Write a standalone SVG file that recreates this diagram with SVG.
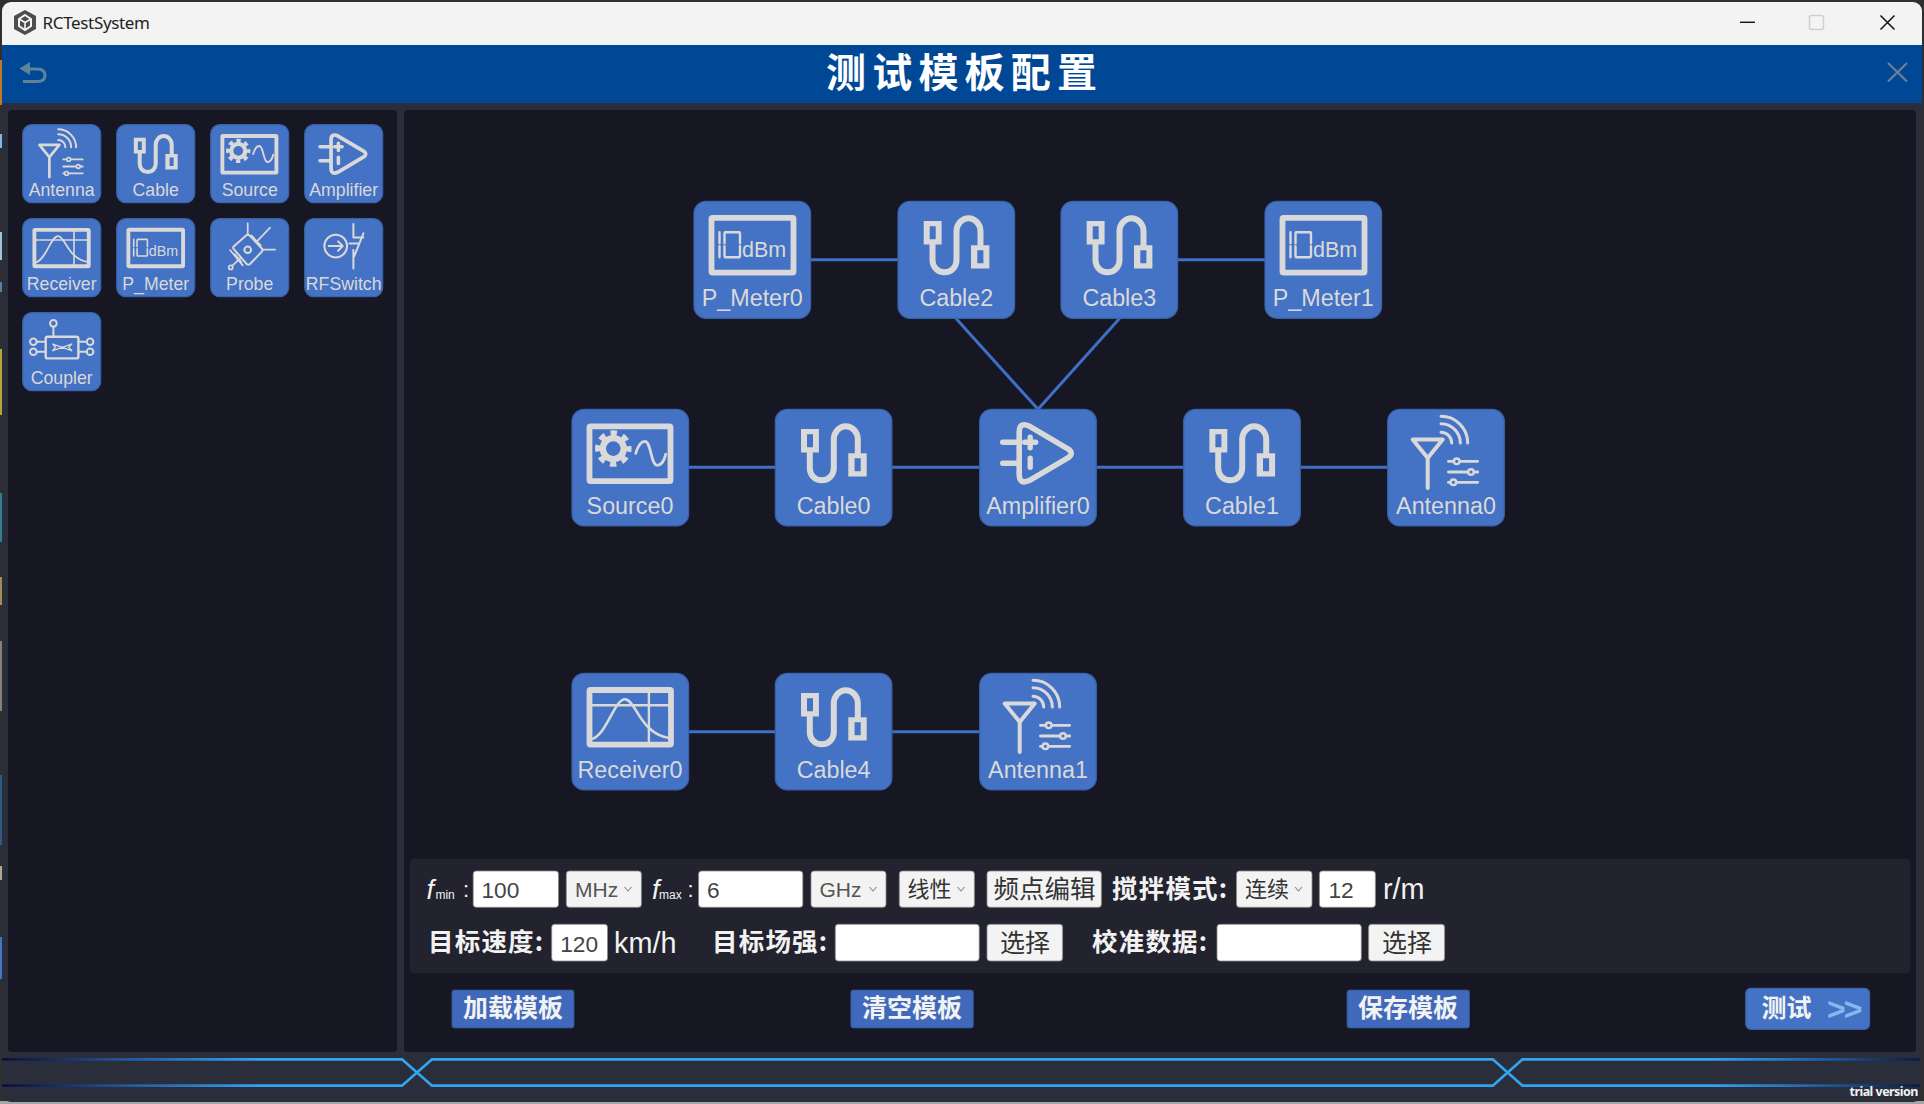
<svg xmlns="http://www.w3.org/2000/svg" width="1924" height="1104" viewBox="0 0 1924 1104">
<style>
.node{fill:#4472c4;stroke:#3a62a8;stroke-width:1.2}
.ic{fill:none;stroke:#d9d9d9;stroke-linecap:round;stroke-linejoin:round}
.icf{fill:#d9d9d9;stroke:none}
.nl{font-family:"Liberation Sans",Arial,sans-serif;font-size:23.3px;fill:#d9d9d9;text-anchor:middle}
.pl{font-family:"Liberation Sans",Arial,sans-serif;font-size:17.7px;fill:#d9d9d9;text-anchor:middle}
.link{stroke:#3f6fc6;stroke-width:3;fill:none}
.inp{fill:#fff;stroke:#8a8a8a;stroke-width:.8}
.sel{fill:#f3f3f3;stroke:#8a8a8a;stroke-width:.8}
.btn{fill:#4069bb;stroke:#2f528f;stroke-width:.8}
.lat{font-family:"Liberation Sans",Arial,sans-serif}
.in{font-size:22.7px;fill:#444}
.opt{font-size:21px;fill:#555}
.unit{font-size:28.8px;fill:#f2f2f2}
.cjk{font-family:"Noto Sans CJK SC","Liberation Serif",sans-serif}
.lb{font-size:25.5px;fill:#f2f2f2;font-weight:700;letter-spacing:1.2px}
.bl{font-size:25px;fill:#333}
.bt{font-size:25px;fill:#f2f2f2;font-weight:700;text-anchor:middle}
.ch{fill:none;stroke:#888;stroke-width:1.1}
.deco{fill:none;stroke:url(#g);stroke-width:2.8}
</style>
<defs>
<linearGradient id="g" gradientUnits="userSpaceOnUse" x1="2" y1="0" x2="1922" y2="0">
<stop offset="0" stop-color="#0a0f3a"/><stop offset=".067" stop-color="#245a9f"/><stop offset=".135" stop-color="#33a4f2"/><stop offset=".89" stop-color="#33a4f2"/><stop offset=".95" stop-color="#1f5a9e"/><stop offset="1" stop-color="#0a1a40"/>
</linearGradient>
<g id="ic-antenna">
<path class="ic" stroke-width="4" d="M25 30.3H55L40 48.7ZM40 48.7V78.7"/>
<path class="ic" stroke-width="3" d="M53.3 7a26.7 26.7 0 0 1 26.7 26.7M53.3 14.4a19.3 19.3 0 0 1 19.3 19.3M53.3 23a10.7 10.7 0 0 1 10.7 10.7"/>
<path class="ic" stroke-width="2.8" d="M60.7 52H90M60.7 62.7H90M60.7 73H90"/>
<g fill="#4472c4" stroke="#d9d9d9" stroke-width="2.4"><circle cx="69" cy="52" r="2.8"/><circle cx="83.3" cy="62.7" r="2.8"/><circle cx="65.7" cy="73" r="2.8"/></g>
</g>
<g id="ic-cable">
<path class="ic" stroke-width="6" d="M34.5 43V59a12 12 0 0 0 24 0V30a12 13 0 0 1 24 0V44"/>
<path class="icf" fill-rule="evenodd" d="M25.7 19.7H43.6V43.3H25.7ZM31.7 25V38H37.7V25Z"/>
<path class="icf" fill-rule="evenodd" d="M73 44H91.4V67.3H73ZM79.3 49V62H85.4V49Z"/>
</g>
<g id="ic-source">
<rect class="ic" stroke-width="5.8" x="17.5" y="17" width="81" height="54.8" rx="1"/>
<circle class="ic" stroke-width="6.4" cx="41.3" cy="39.3" r="10.5"/>
<circle fill="none" stroke="#d9d9d9" stroke-width="5.5" stroke-dasharray="6.4 5.77" stroke-dashoffset="3.2" cx="41.3" cy="39.3" r="15.5"/>
<path class="ic" stroke-width="2.8" d="M63.7 44C66 36 69 32 73 32C79 32 79 56 85 56C89 56 92 52 93.7 45"/>
</g>
<g id="ic-amplifier">
<path class="ic" stroke-width="5.6" d="M39.5 23Q39.5 12 50 17L89 40Q94 44 89 48L50 71Q39.5 76 39.5 65Z"/>
<path class="ic" stroke-width="5.4" d="M23 33H38M23 54H38M45 33H56M50.5 28V38.5M50.5 49V58"/>
</g>
<g id="ic-receiver">
<rect class="ic" stroke-width="5.8" x="17.5" y="16.7" width="81.5" height="54.6" rx="1"/>
<path class="ic" stroke-width="2.4" d="M17.5 32H99M76.9 17V71"/>
<path class="ic" stroke-width="2.6" d="M19 66C35 62 42 26 53 26C64 26 68 62 99 65"/>
</g>
<g id="ic-meter">
<rect class="ic" stroke-width="5.8" x="17.5" y="16.5" width="82" height="54.8" rx="1"/>
<path class="ic" stroke-width="2.4" d="M25.5 31V42M25.5 45V56M31 31H45.5M31 56H45.5M30.5 32V42M30.5 45V55M46 32V42M46 45V55"/>
<text x="48" y="56" font-family="Liberation Sans,Arial,sans-serif" font-size="21.5" fill="#d9d9d9">dBm</text>
</g>
<g id="ic-probe">
<path class="ic" stroke-width="3" d="M34 42L54 24.5Q56 23 58 25L77 45Q78.5 47 77 49L59 68Q56.5 70 54 68L35 46Q33 44 34 42Z"/>
<circle class="ic" stroke-width="3" cx="55.5" cy="46.5" r="5"/>
<path class="ic" stroke-width="2.6" d="M55.5 7V24.5M89 13.5L69 34.5M77.5 46.5H96.5M29 47L48 70M44 59.5L33 70M61 25L75 40M36 53L46 65"/>
<circle class="ic" stroke-width="2.6" cx="30" cy="73" r="3"/>
</g>
<g id="ic-switch">
<circle class="ic" stroke-width="3" cx="46.5" cy="41" r="17"/>
<path class="ic" stroke-width="3" d="M36 41H57M50 34L57 41L50 48"/>
<path class="ic" stroke-width="3" d="M73 8V28H88M88 22L74 57M67 37H82L74 57M73 47V74.5"/>
</g>
<g id="ic-coupler">
<rect class="ic" stroke-width="3.6" x="34.5" y="36" width="49" height="32.5" rx="3"/>
<circle class="ic" stroke-width="3" cx="46" cy="16" r="5"/>
<circle class="ic" stroke-width="3" cx="16" cy="43.5" r="5"/><circle class="ic" stroke-width="3" cx="16" cy="58.5" r="5"/>
<circle class="ic" stroke-width="3" cx="101" cy="43.5" r="5"/><circle class="ic" stroke-width="3" cx="101" cy="58.5" r="5"/>
<path class="ic" stroke-width="3" d="M46 21V36M21 43.5H34M21 58.5H34M84 43.5H96M84 58.5H96"/>
<path class="ic" stroke-width="2" d="M45 47L73.5 57M45 57L73.5 47M45 47L49 52L45 57M73.5 47L69 52L73.5 57"/>
</g>
</defs>

<rect width="1924" height="1104" fill="#2f2f2f"/>
<rect y="1101" width="1924" height="3" fill="#a5a5a5"/>
<rect x="0" y="60" width="2" height="45" fill="#c07a2a"/>
<rect x="0" y="134" width="2" height="14" fill="#7fb8e0"/>
<rect x="0" y="232" width="2" height="28" fill="#9fc5d8"/>
<rect x="0" y="282" width="2" height="10" fill="#5a7f9a"/>
<rect x="0" y="349" width="2" height="66" fill="#b8a23a"/>
<rect x="0" y="493" width="2" height="49" fill="#2f7f8f"/>
<rect x="0" y="577" width="2" height="28" fill="#a58a55"/>
<rect x="0" y="641" width="2" height="70" fill="#8a7f7a"/>
<rect x="0" y="775" width="2" height="70" fill="#2f5a85"/>
<rect x="0" y="866" width="2" height="14" fill="#b0a890"/>
<rect x="0" y="937" width="2" height="42" fill="#3f78c0"/>

<rect x="2" y="2" width="1920" height="1100" rx="9" fill="#2a2d3a"/>
<path d="M2 45V11a9 9 0 0 1 9-9H1913a9 9 0 0 1 9 9V45Z" fill="#f3f3f3"/>
<rect x="2" y="45" width="1920" height="58" fill="#004896"/>

<g id="titlebar">
<polygon points="25,10 36,16 36,29 25,35 14,29 14,16" fill="#4d4d4d"/>
<path d="M25 15L31 19V26L25 30L19 26V19Z" fill="none" stroke="#f3f3f3" stroke-width="2"/>
<path d="M19 19L25 22.5L31 19M25 22.5V30" fill="none" stroke="#f3f3f3" stroke-width="1.6"/>
<text x="42.5" y="28.7" font-family="Noto Sans,sans-serif" font-size="17" fill="#222" textLength="107.5">RCTestSystem</text>
<path d="M1740 22.3H1755" stroke="#111" stroke-width="1.4"/>
<rect x="1809.5" y="15.5" width="14" height="14" rx="2" fill="none" stroke="#cfcfcf" stroke-width="1.5"/>
<path d="M1880.5 15.5L1894.5 29.5M1894.5 15.5L1880.5 29.5" stroke="#111" stroke-width="1.5"/>
</g>
<g id="header">
<path d="M26 69H37Q45 69 45 75.5Q45 81.5 37 81.5H23" fill="none" stroke="#5f8499" stroke-width="3"/>
<polygon points="19.5,68.5 30,62 30,75" fill="#5f8499"/>
<text class="cjk" x="826" y="87" font-size="40" font-weight="700" letter-spacing="6.2" fill="#fff">测试模板配置</text>
<path d="M1888 63L1907 81.5M1907 63L1888 81.5" stroke="#6b8096" stroke-width="2.2"/>
</g>

<rect x="8" y="110" width="389" height="942" rx="4" fill="#161722"/>
<rect x="404" y="110" width="1512" height="942" rx="4" fill="#161722"/>

<g id="palette">
<g id="palette-antenna"><rect class="node" x="22.7" y="124.7" width="78" height="78" rx="9"/><use href="#ic-antenna" transform="translate(22.7 124.7) scale(.667)"/><text class="pl" x="61.7" y="195.7">Antenna</text></g>
<g id="palette-cable"><rect class="node" x="116.7" y="124.7" width="78" height="78" rx="9"/><use href="#ic-cable" transform="translate(116.7 124.7) scale(.667)"/><text class="pl" x="155.7" y="195.7">Cable</text></g>
<g id="palette-source"><rect class="node" x="210.7" y="124.7" width="78" height="78" rx="9"/><use href="#ic-source" transform="translate(210.7 124.7) scale(.667)"/><text class="pl" x="249.7" y="195.7">Source</text></g>
<g id="palette-amplifier"><rect class="node" x="304.7" y="124.7" width="78" height="78" rx="9"/><use href="#ic-amplifier" transform="translate(304.7 124.7) scale(.667)"/><text class="pl" x="343.7" y="195.7">Amplifier</text></g>
<g id="palette-receiver"><rect class="node" x="22.7" y="218.7" width="78" height="78" rx="9"/><use href="#ic-receiver" transform="translate(22.7 218.7) scale(.667)"/><text class="pl" x="61.7" y="289.7">Receiver</text></g>
<g id="palette-meter"><rect class="node" x="116.7" y="218.7" width="78" height="78" rx="9"/><use href="#ic-meter" transform="translate(116.7 218.7) scale(.667)"/><text class="pl" x="155.7" y="289.7">P_Meter</text></g>
<g id="palette-probe"><rect class="node" x="210.7" y="218.7" width="78" height="78" rx="9"/><use href="#ic-probe" transform="translate(210.7 218.7) scale(.667)"/><text class="pl" x="249.7" y="289.7">Probe</text></g>
<g id="palette-switch"><rect class="node" x="304.7" y="218.7" width="78" height="78" rx="9"/><use href="#ic-switch" transform="translate(304.7 218.7) scale(.667)"/><text class="pl" x="343.7" y="289.7">RFSwitch</text></g>
<g id="palette-coupler"><rect class="node" x="22.7" y="312.7" width="78" height="78" rx="9"/><use href="#ic-coupler" transform="translate(22.7 312.7) scale(.667)"/><text class="pl" x="61.7" y="383.7">Coupler</text></g>
</g>

<g id="connectors">
<line class="link" x1="810.5" y1="259.7" x2="898" y2="259.7"/>
<line class="link" x1="1177.7" y1="259.7" x2="1265" y2="259.7"/>
<line class="link" x1="956" y1="318.5" x2="1038" y2="409.3"/>
<line class="link" x1="1119.5" y1="318.5" x2="1038" y2="409.3"/>
<line class="link" x1="688.5" y1="467.3" x2="775.3" y2="467.3"/>
<line class="link" x1="892" y1="467.3" x2="980" y2="467.3"/>
<line class="link" x1="1096.5" y1="467.3" x2="1184" y2="467.3"/>
<line class="link" x1="1300.5" y1="467.3" x2="1388" y2="467.3"/>
<line class="link" x1="688.5" y1="731.7" x2="775.3" y2="731.7"/>
<line class="link" x1="892" y1="731.7" x2="980" y2="731.7"/>
</g>

<g id="P_Meter0"><rect class="node" x="694" y="201.3" width="116.6" height="117" rx="12"/><use href="#ic-meter" transform="translate(694 201.3)"/><text class="nl" x="752.3" y="306">P_Meter0</text></g>
<g id="Cable2"><rect class="node" x="898" y="201.3" width="116.6" height="117" rx="12"/><use href="#ic-cable" transform="translate(898 201.3)"/><text class="nl" x="956.3" y="306">Cable2</text></g>
<g id="Cable3"><rect class="node" x="1061" y="201.3" width="116.6" height="117" rx="12"/><use href="#ic-cable" transform="translate(1061 201.3)"/><text class="nl" x="1119.3" y="306">Cable3</text></g>
<g id="P_Meter1"><rect class="node" x="1265" y="201.3" width="116.6" height="117" rx="12"/><use href="#ic-meter" transform="translate(1265 201.3)"/><text class="nl" x="1323.3" y="306">P_Meter1</text></g>
<g id="Source0"><rect class="node" x="572" y="409.3" width="116.6" height="116.6" rx="12"/><use href="#ic-source" transform="translate(572 409.3)"/><text class="nl" x="630" y="514">Source0</text></g>
<g id="Cable0"><rect class="node" x="775.3" y="409.3" width="116.6" height="116.6" rx="12"/><use href="#ic-cable" transform="translate(775.3 409.3)"/><text class="nl" x="833.6" y="514">Cable0</text></g>
<g id="Amplifier0"><rect class="node" x="979.7" y="409.3" width="116.6" height="116.6" rx="12"/><use href="#ic-amplifier" transform="translate(979.7 409.3)"/><text class="nl" x="1038" y="514">Amplifier0</text></g>
<g id="Cable1"><rect class="node" x="1183.7" y="409.3" width="116.6" height="116.6" rx="12"/><use href="#ic-cable" transform="translate(1183.7 409.3)"/><text class="nl" x="1242" y="514">Cable1</text></g>
<g id="Antenna0"><rect class="node" x="1387.7" y="409.3" width="116.6" height="116.6" rx="12"/><use href="#ic-antenna" transform="translate(1387.7 409.3)"/><text class="nl" x="1446" y="514">Antenna0</text></g>
<g id="Receiver0"><rect class="node" x="572" y="673.3" width="116.6" height="116.6" rx="12"/><use href="#ic-receiver" transform="translate(572 673.3)"/><text class="nl" x="630" y="778.3">Receiver0</text></g>
<g id="Cable4"><rect class="node" x="775.3" y="673.3" width="116.6" height="116.6" rx="12"/><use href="#ic-cable" transform="translate(775.3 673.3)"/><text class="nl" x="833.6" y="778.3">Cable4</text></g>
<g id="Antenna1"><rect class="node" x="979.7" y="673.3" width="116.6" height="116.6" rx="12"/><use href="#ic-antenna" transform="translate(979.7 673.3)"/><text class="nl" x="1038" y="778.3">Antenna1</text></g>

<g id="controls">
<rect x="410" y="858.7" width="1500.5" height="114.6" rx="4" fill="#22232e"/>
<text class="lat" x="426.5" y="899" font-size="27" font-style="italic" fill="#f2f2f2">f</text>
<text class="lat" x="435.4" y="899" font-size="12" fill="#f2f2f2">min</text>
<text class="lat" x="463" y="897" font-size="22" fill="#f2f2f2">:</text>
<rect class="inp" x="473.2" y="871" width="85.3" height="36.3" rx="3"/>
<text class="lat in" x="481.5" y="898">100</text>
<rect class="sel" x="566.3" y="871" width="75.1" height="36.3" rx="3"/>
<text class="lat opt" x="575" y="897">MHz</text>
<path class="ch" d="M624.5 887L628 891L631.5 887"/>
<text class="lat" x="652" y="899" font-size="27" font-style="italic" fill="#f2f2f2">f</text>
<text class="lat" x="659" y="899" font-size="12" fill="#f2f2f2">max</text>
<text class="lat" x="687.5" y="897" font-size="22" fill="#f2f2f2">:</text>
<rect class="inp" x="698.6" y="871" width="104.2" height="36.3" rx="3"/>
<text class="lat in" x="707" y="898">6</text>
<rect class="sel" x="811" y="871" width="75" height="36.3" rx="3"/>
<text class="lat opt" x="819.5" y="897">GHz</text>
<path class="ch" d="M869.5 887L873 891L876.5 887"/>
<rect class="sel" x="899.3" y="871" width="75.1" height="36.3" rx="3"/>
<text class="cjk" x="907.5" y="897" font-size="22" fill="#333">线性</text>
<path class="ch" d="M957.5 887L961 891L964.5 887"/>
<rect class="sel" x="987" y="871" width="114.4" height="36.3" rx="3"/>
<text class="cjk bl" x="993.5" y="898" style="font-size:25.5px">频点编辑</text>
<text class="cjk lb" x="1112" y="898">搅拌模式:</text>
<rect class="sel" x="1236.5" y="871" width="75.5" height="36.3" rx="3"/>
<text class="cjk" x="1245" y="897" font-size="22" fill="#333">连续</text>
<path class="ch" d="M1295 887L1298.5 891L1302 887"/>
<rect class="inp" x="1319.4" y="871" width="56" height="36.3" rx="3"/>
<text class="lat in" x="1328.5" y="898">12</text>
<text class="lat unit" x="1383" y="899">r/m</text>

<text class="cjk lb" x="428" y="951">目标速度:</text>
<rect class="inp" x="551.7" y="924.3" width="55.8" height="36.7" rx="3"/>
<text class="lat in" x="560.2" y="951.7">120</text>
<text class="lat unit" x="614" y="953">km/h</text>
<text class="cjk lb" x="712" y="951">目标场强:</text>
<rect class="inp" x="835.3" y="924.3" width="143.9" height="36.7" rx="3"/>
<rect class="sel" x="987" y="924.3" width="75.6" height="36.7" rx="3"/>
<text class="cjk bl" x="1000" y="952">选择</text>
<text class="cjk lb" x="1092" y="951">校准数据:</text>
<rect class="inp" x="1217" y="924.3" width="144.3" height="36.7" rx="3"/>
<rect class="sel" x="1368.6" y="924.3" width="76" height="36.7" rx="3"/>
<text class="cjk bl" x="1382" y="952">选择</text>
</g>

<g id="buttons">
<rect class="btn" x="451.9" y="990" width="122.1" height="38" rx="2.5"/>
<text class="cjk bt" x="513" y="1017">加载模板</text>
<rect class="btn" x="850.8" y="990" width="122.6" height="38" rx="2.5"/>
<text class="cjk bt" x="912" y="1017">清空模板</text>
<rect class="btn" x="1347" y="990" width="122.5" height="38" rx="2.5"/>
<text class="cjk bt" x="1408" y="1017">保存模板</text>
<rect class="node" x="1745.8" y="988.3" width="123.8" height="41" rx="5"/>
<text class="cjk bt" x="1786.5" y="1017">测试</text>
<text class="lat" x="1827" y="1020" font-size="32" font-weight="700" letter-spacing="-2" fill="#86b8ee">&gt;&gt;</text>
</g>

<g id="footer">
<path class="deco" d="M2 1059.3H402L432 1085.7H1492.8L1522.5 1059.3H1920"/>
<path class="deco" d="M2 1085.7H402L432 1059.3H1492.8L1522.5 1085.7H1920"/>
<text x="1849.5" y="1096" font-family="Noto Sans,sans-serif" font-size="12.5" font-weight="700" fill="#f2f2f2" textLength="69">trial version</text>
</g>
</svg>
